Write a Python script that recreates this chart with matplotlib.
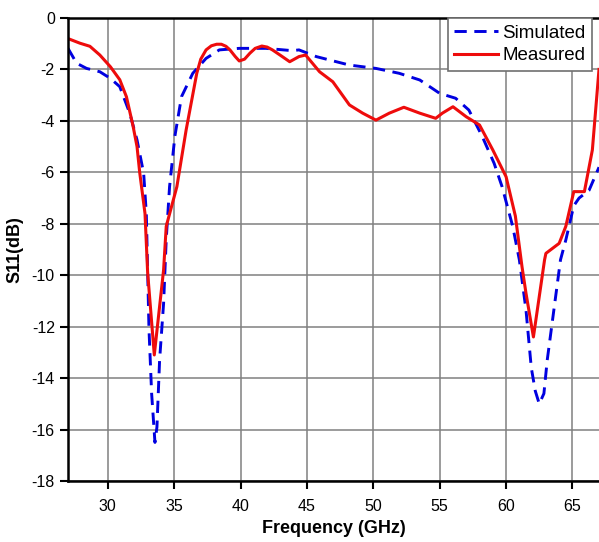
import numpy as np
import matplotlib
matplotlib.use("Agg")
from matplotlib import pyplot as plt

plt.rcParams['font.family'] = ['Liberation Sans', 'DejaVu Sans']
plt.rcParams['axes.unicode_minus'] = False

# measured S11
meas_f = [27.0, 27.9, 28.65, 29.4, 30.2, 30.9, 31.4, 31.9, 32.2, 32.4, 32.8, 33.0,
          33.5, 34.2, 34.4, 35.2, 35.9, 36.7, 37.0, 37.4, 37.8, 38.2, 38.55, 38.9, 39.2,
          39.6, 39.9, 40.3, 40.7, 41.1, 41.6, 42.0, 42.4, 43.0, 43.7, 44.4, 44.9,
          45.95, 46.95, 48.2, 49.2, 50.2, 51.2, 52.3, 53.5, 54.7, 55.2, 56.0, 57.0,
          58.0, 59.0, 60.0, 60.7, 61.2, 61.5, 62.06, 62.9, 63.0, 64.0, 64.5, 65.1,
          65.9, 66.5, 67.0]
meas_s = [-0.8, -0.98, -1.1, -1.44, -1.9, -2.4, -3.06, -4.2, -5.0, -6.0, -7.6, -9.9,
          -13.1, -9.8, -8.1, -6.56, -4.35, -2.15, -1.6, -1.24, -1.08, -1.02, -1.02, -1.1, -1.24,
          -1.5, -1.67, -1.6, -1.37, -1.18, -1.09, -1.13, -1.24, -1.45, -1.7, -1.5, -1.44,
          -2.09, -2.48, -3.38, -3.7, -3.97, -3.7, -3.47, -3.7, -3.9, -3.7, -3.45, -3.84,
          -4.16, -5.13, -6.17, -7.7, -9.67, -10.7, -12.4, -9.4, -9.15, -8.76, -8.1, -6.75,
          -6.75, -5.13, -2.0]

# simulated S11
sim_f = [27.0, 27.65, 28.4, 29.4, 30.2, 30.9, 31.65, 32.2, 32.7, 32.9, 33.1, 33.3,
         33.55, 33.7, 33.9, 34.2, 34.4, 34.65, 35.05, 35.55, 36.4, 37.4, 38.4, 39.9,
         41.9, 43.9, 44.4, 45.7, 48.2, 50.2, 51.95, 53.5, 55.0, 56.2, 57.2, 58.2,
         59.1, 59.7, 60.5, 61.0, 61.5, 61.9, 62.2, 62.5, 62.85, 63.1, 63.6, 64.1,
         64.5, 65.1, 65.5, 66.25, 67.0]
sim_s = [-1.18, -1.76, -1.96, -2.09, -2.35, -2.67, -3.7, -4.74, -6.04, -7.6, -12.1, -14.6,
         -16.5, -15.9, -13.3, -11.1, -8.6, -6.56, -4.6, -3.06, -2.15, -1.57, -1.24, -1.18,
         -1.18, -1.27, -1.24, -1.5, -1.83, -1.96, -2.15, -2.41, -2.93, -3.12, -3.58, -4.6,
         -5.65, -6.56, -8.1, -9.4, -11.35, -13.6, -14.5, -15.0, -14.6, -13.3, -11.35, -9.4,
         -8.63, -7.3, -7.0, -6.7, -5.8]

xticks = [30, 35, 40, 45, 50, 55, 60, 65]
yticks = list(range(-18, 1, 2))

fig = plt.figure(figsize=(5.99, 5.42), dpi=100)
ax = fig.add_axes([68 / 599, 61 / 542, 531 / 599, 463 / 542])

ax.plot(sim_f, sim_s, color='#0000e0', lw=2.1, ls=(0, (4.2, 2.6)), label='Simulated')
ax.plot(meas_f, meas_s, color='#ee0c0c', lw=2.2, label='Measured')

ax.set_xlim(27, 67)
ax.set_ylim(-18, 0)
ax.set_xticks(xticks)
ax.set_yticks(yticks)
ax.grid(True, color='#808080', lw=1.1)
ax.set_axisbelow(True)

for side in ['left', 'bottom', 'top']:
    ax.spines[side].set_linewidth(1.8)
ax.spines['right'].set_visible(False)
ax.tick_params(axis='both', labelsize=11.5, direction='out', length=6, width=1.5)
ax.tick_params(axis='x', pad=7)

ax.set_xlabel('Frequency (GHz)', fontsize=13, fontweight='bold', labelpad=4)
ax.set_ylabel('S11(dB)', fontsize=13, fontweight='bold', labelpad=6)

leg = ax.legend(loc='upper right', bbox_to_anchor=(0.987, 1.0), borderaxespad=0,
                fontsize=13.5, fancybox=False, framealpha=1, edgecolor='#707070',
                handlelength=2.3, handletextpad=0.25, borderpad=0.35, labelspacing=0.3)
leg.get_frame().set_linewidth(1.2)

fig.savefig('out.png', dpi=100)
